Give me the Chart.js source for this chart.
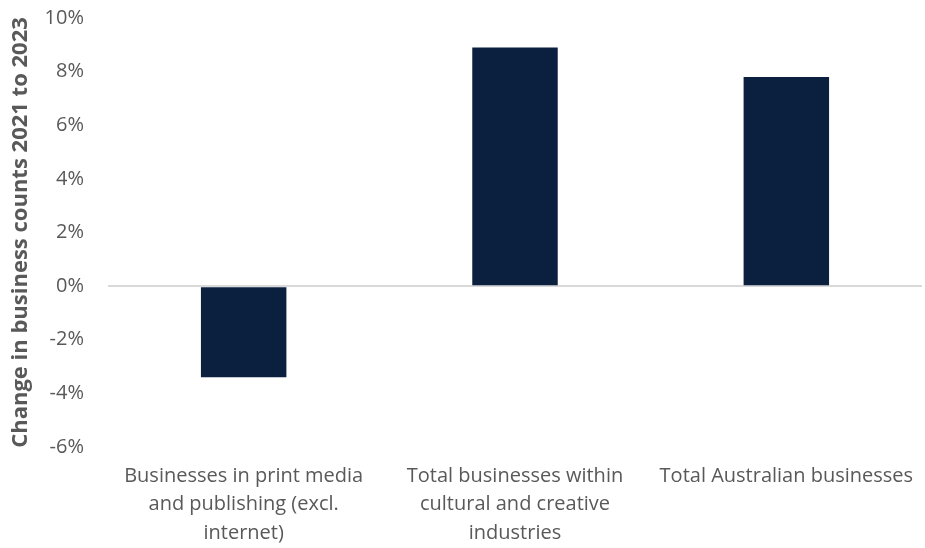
<!DOCTYPE html>
<html>
<head>
<meta charset="utf-8">
<script src="https://cdn.jsdelivr.net/npm/chart.js@4/dist/chart.umd.min.js"></script>
<style>
  html, body { margin: 0; padding: 0; background: #ffffff; }
  #wrap { position: relative; width: 925px; height: 548px; }
</style>
</head>
<body>
<div id="wrap"><canvas id="chart"></canvas></div>
<script>
// categories (multi-line labels as in the picture)
const categories = [
    ['Businesses in print media', 'and publishing (excl.', 'internet)'],
    ['Total businesses within', 'cultural and creative', 'industries'],
    ['Total Australian businesses']
];
// change in business counts, percent
const changeValues = [-3.4, 8.9, 7.8];
const yTicks = [-6, -4, -2, 0, 2, 4, 6, 8, 10];

const textGrey = '#595959';
const barColor = '#0b1f3f';
const fontFamily = '"Open Sans", sans-serif';

const ctx = document.getElementById('chart').getContext('2d');
new Chart(ctx, {
    type: 'bar',
    data: {
        labels: categories,
        datasets: [{
            data: changeValues,
            backgroundColor: barColor,
            borderWidth: 0,
            categoryPercentage: 1,
            barPercentage: 0.315
        }]
    },
    options: {
        responsive: true,
        maintainAspectRatio: false,
        animation: false,
        layout: { padding: { top: 18, right: 3, left: 8, bottom: 0 } },
        plugins: {
            legend: { display: false },
            tooltip: { enabled: false }
        },
        scales: {
            x: {
                afterFit: (scale) => {
                    scale.height = 101;
                    scale.paddingLeft = 0;
                    scale.paddingRight = 0;
                },
                grid: { display: false, drawTicks: false },
                border: { display: false },
                ticks: {
                    color: textGrey,
                    font: { family: fontFamily, size: 20, lineHeight: 1.42 },
                    maxRotation: 0,
                    autoSkip: false,
                    padding: 15
                }
            },
            y: {
                min: -6,
                max: 10,
                afterBuildTicks: (scale) => {
                    scale.ticks = yTicks.map(v => ({ value: v }));
                },
                afterFit: (scale) => {
                    scale.width = 100;
                    scale.paddingTop = 0;
                    scale.paddingBottom = 0;
                },
                grid: {
                    drawTicks: false,
                    color: (c) => c.tick && c.tick.value === 0 ? '#d9d9d9' : 'rgba(0,0,0,0)',
                    lineWidth: 2
                },
                border: { display: false },
                ticks: {
                    color: textGrey,
                    font: { family: fontFamily, size: 20 },
                    padding: 24,
                    callback: (v) => v + '%'
                },
                title: {
                    display: true,
                    text: 'Change in business counts 2021 to 2023',
                    color: textGrey,
                    font: { family: fontFamily, size: 22, weight: 'bold' },
                    padding: { top: 0, bottom: 0 }
                }
            }
        }
    }
});
</script>
</body>
</html>
